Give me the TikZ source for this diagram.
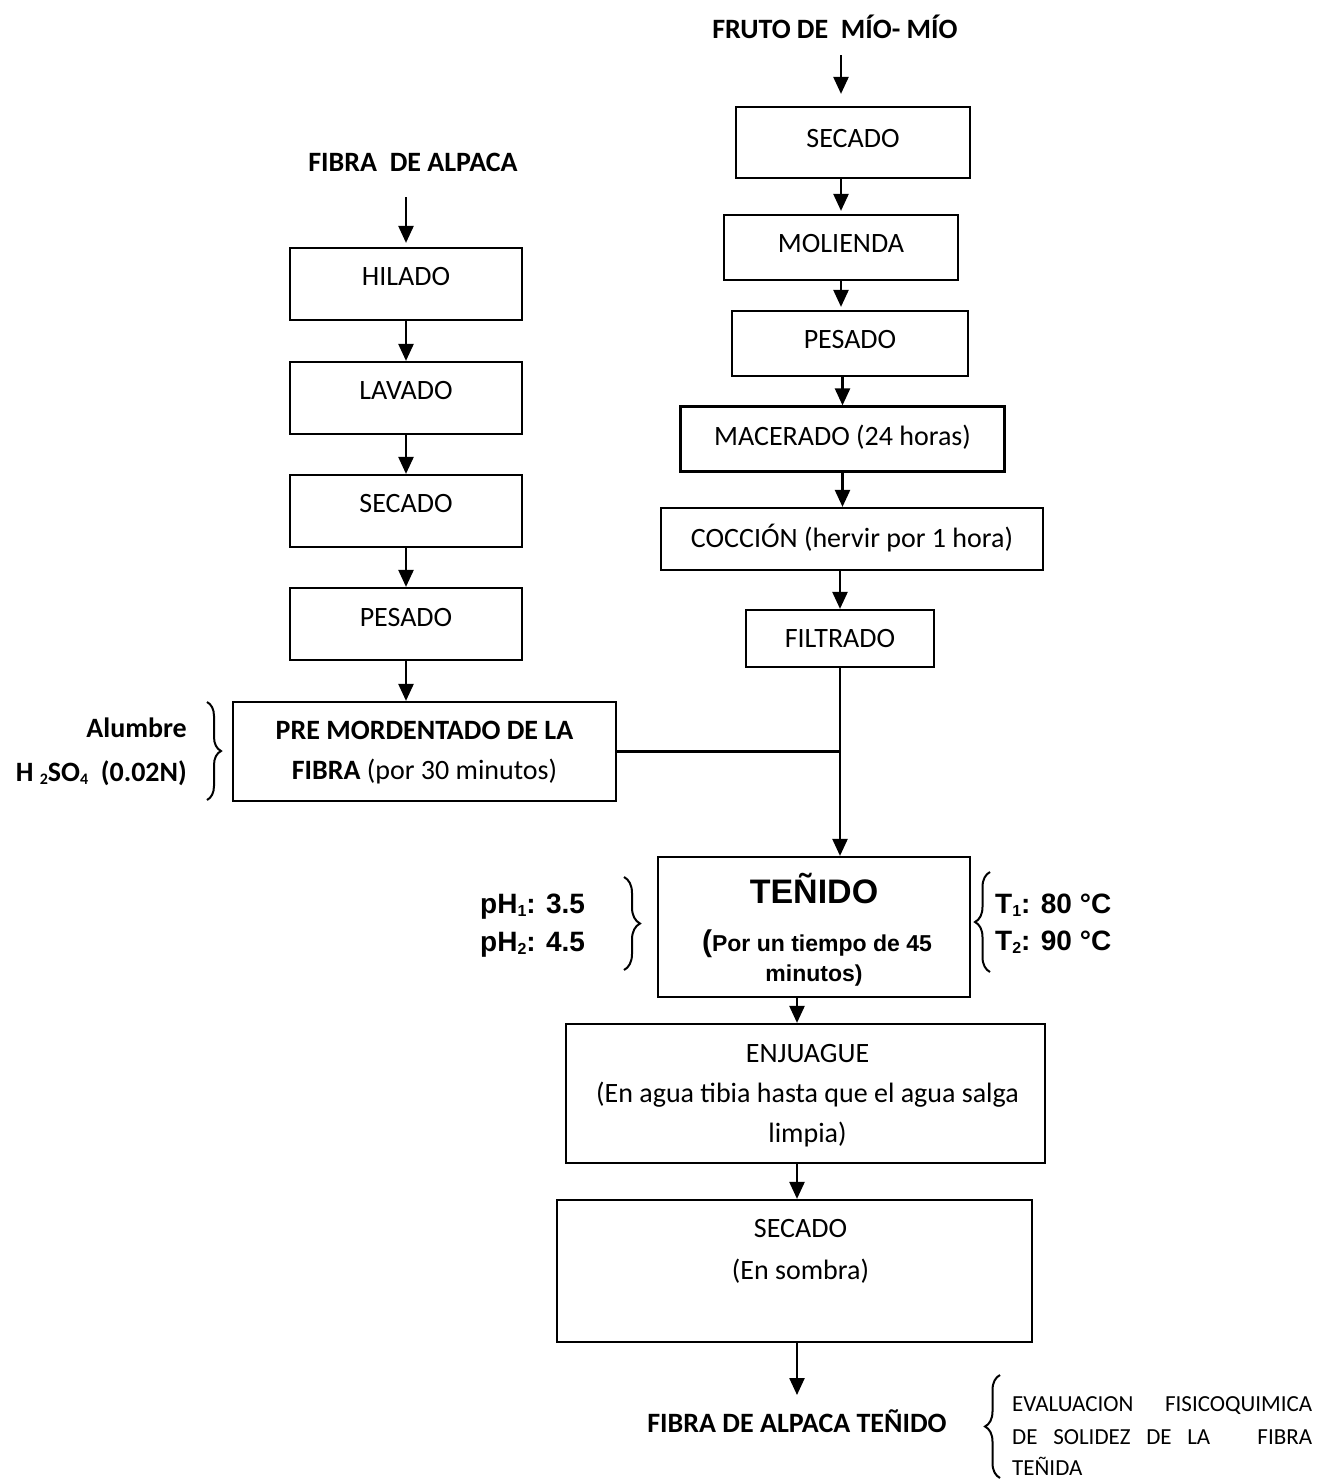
\documentclass[tikz,border=0pt]{standalone}
\usepackage{fontspec}
\setmainfont{Carlito}
\newfontfamily\arialf{Liberation Sans}
\usetikzlibrary{arrows.meta,decorations.pathreplacing,calc}
% a text line placed relative to the node centre: [x shift]{lift}{text}
\newcommand\txtline[3][0pt]{\makebox[0pt]{\hspace*{#1}\hspace*{#1}\raisebox{#2}[0pt][0pt]{#3}}}
% small subscript
\newcommand\sbs[1]{\raisebox{-3pt}{\fontsize{16}{16}\selectfont #1}}
\tikzset{
  box/.style={draw, line width=2.2pt, inner sep=0pt, rectangle},
  cal/.style={font=\fontsize{28}{34}\selectfont},
  calb/.style={font=\fontsize{28}{34}\selectfont\bfseries},
  ari/.style={font=\arialf\bfseries\fontsize{28}{34}\selectfont},
  evl/.style={font=\fontsize{23}{33}\selectfont},
  lbl/.style={inner sep=0pt},
  arr/.style={-{Triangle[length=17pt,width=15pt]}, line width=2.4pt},
  ln/.style={line width=2.2pt},
  brc/.style={decorate, decoration={brace, amplitude=#1}, line width=2pt},
}
\begin{document}
\begin{tikzpicture}[x=1pt,y=-1pt]
\fill[white] (0,0) rectangle (1317,1481);
\useasboundingbox (0,0) rectangle (1317,1481);

% titles
\node[lbl, calb, anchor=base] (fruto) at (835,38) {FRUTO DE\ \ MÍO- MÍO};
\node[lbl, calb, anchor=base] (fibra) at (413,171) {FIBRA\ \ DE ALPACA};

% left column
\node[box, cal, minimum width=232pt, minimum height=72pt] (hilado) at (406,284) {\txtline{-1pt}{HILADO}};
\node[box, cal, minimum width=232pt, minimum height=72pt] (lavado) at (406,398) {\txtline{-1pt}{LAVADO}};
\node[box, cal, minimum width=232pt, minimum height=72pt] (secL) at (406,511) {\txtline{-1pt}{SECADO}};
\node[box, cal, minimum width=232pt, minimum height=72pt] (pesL) at (406,624) {\txtline{-2pt}{PESADO}};
\node[box, cal, minimum width=383pt, minimum height=99pt] (premord) at (424.5,751.5) {\txtline{12.5pt}{\textbf{PRE MORDENTADO DE LA}}\txtline{-27.5pt}{\textbf{FIBRA} (por 30 minutos)}};

% right column
\node[box, cal, minimum width=234pt, minimum height=71pt] (secR) at (853,142.5) {\txtline{-4.5pt}{SECADO}};
\node[box, cal, minimum width=234pt, minimum height=65pt] (mol) at (841,247.5) {\txtline{-4.5pt}{MOLIENDA}};
\node[box, cal, minimum width=236pt, minimum height=65pt] (pesR) at (850,343.5) {\txtline{-4.5pt}{PESADO}};
\node[box, cal, minimum width=324pt, minimum height=65pt] (mac) at (842.5,439) {\txtline{-6pt}{MACERADO (24 horas)}};
\node[box, cal, minimum width=382pt, minimum height=62pt] (cocc) at (852,539) {\txtline{-8pt}{COCCIÓN (hervir por 1 hora)}};
\node[box, cal, minimum width=188pt, minimum height=57pt] (filt) at (840,638.5) {\txtline{-8.5pt}{FILTRADO}};

% lower column
\node[box, minimum width=312pt, minimum height=140pt, font=\arialf\bfseries] (tenido) at (814,927) {\txtline{24pt}{\fontsize{34}{40}\selectfont TEÑIDO}\txtline[3pt]{-24pt}{\fontsize{23}{28}\selectfont{\fontsize{30}{30}\selectfont(}Por un tiempo de 45}\txtline{-54pt}{\fontsize{23}{28}\selectfont minutos)}};
\node[box, cal, minimum width=479pt, minimum height=139pt] (enj) at (805.5,1093.5) {\txtline[2pt]{31.5pt}{ENJUAGUE}\txtline[2pt]{-8.5pt}{(En agua tibia hasta que el agua salga}\txtline[2pt]{-48.5pt}{limpia)}};
\node[box, cal, minimum width=475pt, minimum height=142pt] (sec2) at (794.5,1271) {\txtline[6pt]{34pt}{SECADO}\txtline[6pt]{-8pt}{(En sombra)}};
\node[lbl, calb, anchor=base] (fin) at (797,1432) {FIBRA DE ALPACA TEÑIDO};

% side labels
\node[lbl, calb, anchor=base east] (alum) at (187,737) {Alumbre};
\node[lbl, calb, anchor=base east] (hso) at (187,781) {H \sbs{2}SO\sbs{4}\ \ (0.02N)};
\node[lbl, ari, anchor=base west] (ph1) at (480,913) {pH\sbs{1}: 3.5};
\node[lbl, ari, anchor=base west] (ph2) at (480,951) {pH\sbs{2}: 4.5};
\node[lbl, ari, anchor=base west] (t1) at (995,913) {T\sbs{1}: 80 °C};
\node[lbl, ari, anchor=base west] (t2) at (995,950) {T\sbs{2}: 90 °C};
\node[lbl, evl, anchor=base west] (ev1) at (1012,1411) {\makebox[300pt][s]{EVALUACION FISICOQUIMICA}};
\node[lbl, evl, anchor=base west] (ev2) at (1012,1444) {\makebox[300pt][s]{DE SOLIDEZ DE LA\ \ \ FIBRA}};
\node[lbl, evl, anchor=base west] (ev3) at (1012,1475) {TEÑIDA};

% braces
\draw[brc=14pt] (207,702) -- (207,800);
\draw[brc=16pt] (624,877) -- (624,970);
\draw[brc=15pt] (990,972) -- (990,872);
\draw[brc=15pt] (1000,1478) -- (1000,1375);

% connectors, left
\draw[arr, shorten <=26pt, shorten >=4pt] (hilado.north |- fibra.south) -- (hilado.north);
\draw[arr] (hilado) -- (lavado);
\draw[arr] (lavado) -- (secL);
\draw[arr] (secL) -- (pesL);
\draw[arr] (pesL.south) -- (pesL.south |- premord.north);

% connectors, right
\draw[arr, shorten <=17pt, shorten >=12pt] (mol.north |- fruto.south) -- (mol.north |- secR.north);
\draw[arr, shorten >=3pt] (mol.north |- secR.south) -- (mol.north);
\draw[arr, shorten >=3pt] (mol.south) -- (mol.south |- pesR.north);
\draw[arr] (mac.north |- pesR.south) -- (mac.north);
\draw[arr] (mac.south) -- (mac.south |- cocc.north);
\draw[arr] (filt.north |- cocc.south) -- (filt.north);
\coordinate (junc) at (filt.south |- premord.east);
\draw[ln] (premord.east) -- (junc);
\draw[arr] (filt.south) -- (filt.south |- tenido.north);

% connectors, bottom
\draw[arr] (fin.north |- tenido.south) -- (fin.north |- enj.north);
\draw[arr] (fin.north |- enj.south) -- (fin.north |- sec2.north);
\draw[arr, shorten >=14pt] (fin.north |- sec2.south) -- (fin.north);
\end{tikzpicture}
\end{document}
